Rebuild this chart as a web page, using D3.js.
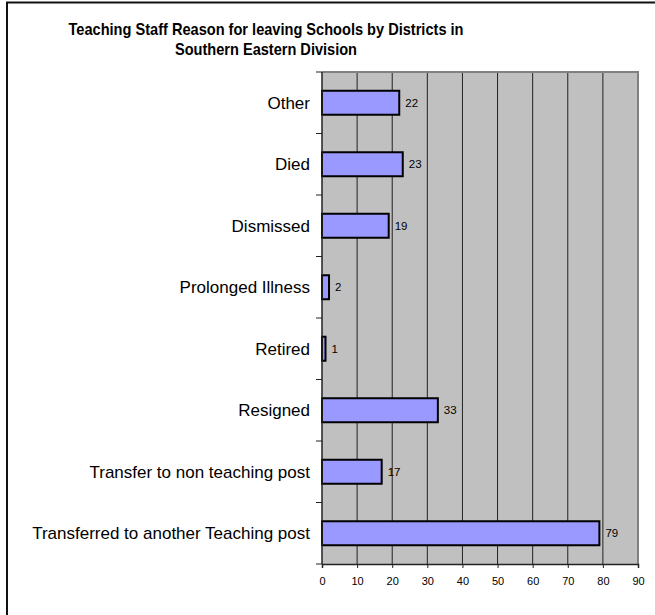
<!DOCTYPE html>
<html>
<head>
<meta charset="utf-8">
<script src="https://cdn.jsdelivr.net/npm/d3@7"></script>
<style>
  html, body { margin: 0; padding: 0; background: #fff; }
  svg { display: block; font-family: "Liberation Sans", Arial, sans-serif; }
</style>
</head>
<body>
<svg id="chart" width="655" height="615"></svg>
<script>
const categories = [
  "Other",
  "Died",
  "Dismissed",
  "Prolonged Illness",
  "Retired",
  "Resigned",
  "Transfer to non teaching post",
  "Transferred to another Teaching post"
];
const values = [22, 23, 19, 2, 1, 33, 17, 79];
const xTicks = [0, 10, 20, 30, 40, 50, 60, 70, 80, 90];
const titleLines = [
  "Teaching Staff Reason for leaving Schools by Districts in",
  "Southern Eastern Division"
];
const titleWidths = [395, 182];

const data = categories.map((c, i) => ({ cat: c, val: values[i] }));

const svg = d3.select("#chart");
const W = 655, H = 615;
const plot = { left: 322, right: 638, top: 72, bottom: 564 };

// page frame (top & left lines)
svg.append("line").attr("x1", 6).attr("x2", W).attr("y1", 2.5).attr("y2", 2.5)
  .attr("stroke", "#111").attr("stroke-width", 2);
svg.append("line").attr("x1", 7).attr("x2", 7).attr("y1", 2).attr("y2", H)
  .attr("stroke", "#111").attr("stroke-width", 2);

// title
titleLines.forEach((t, i) => {
  svg.append("text").attr("text-anchor", "middle")
    .attr("font-weight", "bold").attr("font-size", 16.3).attr("fill", "#000")
    .attr("x", 266).attr("y", 35 + i * 20)
    .attr("textLength", titleWidths[i]).attr("lengthAdjust", "spacingAndGlyphs")
    .text(t);
});

const x = d3.scaleLinear().domain([0, 90]).range([plot.left, plot.right]);
const y = d3.scaleBand().domain(categories).range([plot.top, plot.bottom])
  .paddingInner(0.61).paddingOuter(0.305);

// plot background
svg.append("rect")
  .attr("x", plot.left).attr("y", plot.top)
  .attr("width", plot.right - plot.left).attr("height", plot.bottom - plot.top)
  .attr("fill", "#c0c0c0");

// vertical gridlines
svg.append("g").selectAll("line")
  .data(xTicks.filter(t => t > 0 && t < 90))
  .join("line")
  .attr("x1", d => x(d)).attr("x2", d => x(d))
  .attr("y1", plot.top).attr("y2", plot.bottom)
  .attr("stroke", "#222").attr("stroke-width", 1);

// plot border top/right (gray)
svg.append("path")
  .attr("d", `M${plot.left},${plot.top}H${plot.right}V${plot.bottom}`)
  .attr("fill", "none").attr("stroke", "#808080").attr("stroke-width", 2);

// bars
svg.append("g").selectAll("rect")
  .data(data)
  .join("rect")
  .attr("x", x(0))
  .attr("y", d => y(d.cat))
  .attr("width", d => x(d.val) - x(0))
  .attr("height", y.bandwidth())
  .attr("fill", "#9999ff")
  .attr("stroke", "#000").attr("stroke-width", 2);

// value labels
svg.append("g").selectAll("text")
  .data(data)
  .join("text")
  .attr("x", d => x(d.val) + 6)
  .attr("y", d => y(d.cat) + y.bandwidth() / 2)
  .attr("dy", "0.36em")
  .attr("font-size", 11.5)
  .attr("fill", "#000")
  .text(d => d.val);

// x axis
const xAxis = svg.append("g")
  .attr("transform", `translate(0,${plot.bottom})`)
  .call(d3.axisBottom(x).tickValues(xTicks).tickSize(4).tickPadding(9));
xAxis.select(".domain").attr("stroke", "#222").attr("stroke-width", 1.5);
xAxis.selectAll(".tick line").attr("stroke", "#222");
xAxis.selectAll(".tick text").attr("font-size", 11).attr("fill", "#000")
  .attr("font-family", "Liberation Sans, Arial, sans-serif");

// y axis line and boundary ticks
const step = y.step();
const boundaries = d3.range(categories.length + 1);
const yg = svg.append("g");
yg.append("line").attr("x1", plot.left).attr("x2", plot.left)
  .attr("y1", plot.top).attr("y2", plot.bottom)
  .attr("stroke", "#222").attr("stroke-width", 1.5);
yg.selectAll("line.bt")
  .data(boundaries)
  .join("line").attr("class", "bt")
  .attr("x1", plot.left - 6).attr("x2", plot.left)
  .attr("y1", i => plot.top + i * step).attr("y2", i => plot.top + i * step)
  .attr("stroke", "#222").attr("stroke-width", 1);

// category labels
svg.append("g").selectAll("text")
  .data(categories)
  .join("text")
  .attr("x", 310)
  .attr("y", d => y(d) + y.bandwidth() / 2)
  .attr("dy", "0.36em")
  .attr("text-anchor", "end")
  .attr("font-size", 17)
  .attr("fill", "#000")
  .text(d => d);
</script>
</body>
</html>
